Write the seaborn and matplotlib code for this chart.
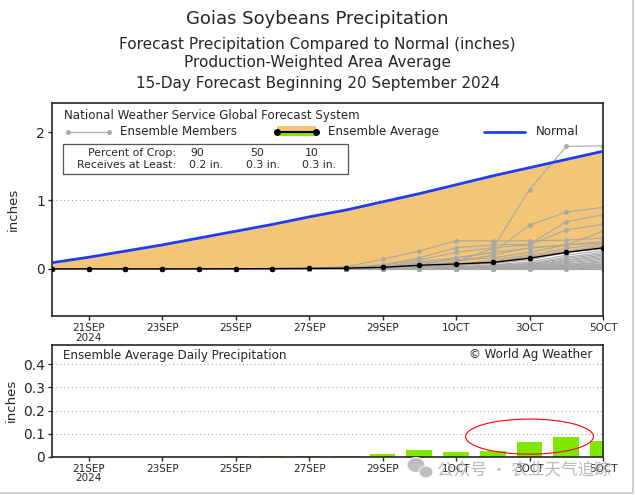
import numpy as np
import pandas as pd
import seaborn as sns
import matplotlib
matplotlib.use("Agg")
from matplotlib import pyplot as plt
from matplotlib.patches import Rectangle, Ellipse

# Forecast days: 0 = 20 SEP 2024 ... 15 = 5 OCT 2024
days = list(range(16))
tick_days = [1, 3, 5, 7, 9, 11, 13, 15]
tick_labels = ["21SEP\n2024", "23SEP", "25SEP", "27SEP", "29SEP", "1OCT", "3OCT", "5OCT"]

# Normal cumulative precipitation (inches)
normal_cum = [0.09, 0.17, 0.26, 0.35, 0.45, 0.55, 0.65, 0.76, 0.86, 0.98,
              1.10, 1.23, 1.36, 1.48, 1.60, 1.72]

# Ensemble average daily precipitation for days 1..15 (inches)
bar_days = days[1:]
daily_avg = [0.0, 0.0, 0.0, 0.0, 0.001, 0.002, 0.003, 0.004, 0.012,
             0.030, 0.019, 0.023, 0.062, 0.084, 0.067]
avg_cum = np.concatenate([[0.0], np.cumsum(daily_avg)])

# Ensemble members, cumulative for days 7..15 (days 0..6 are dry)
member_tails = [
    [0, 0, 0.02, 0.05, 0.10, 0.30, 1.16, 1.79, 1.80],
    [0, 0.01, 0.03, 0.10, 0.16, 0.24, 0.64, 0.83, 0.90],
    [0.01, 0.03, 0.14, 0.26, 0.41, 0.41, 0.41, 0.42, 0.45],
    [0, 0.02, 0.06, 0.16, 0.31, 0.35, 0.36, 0.69, 0.79],
    [0, 0.01, 0.05, 0.13, 0.24, 0.31, 0.35, 0.57, 0.65],
    [0, 0, 0.02, 0.05, 0.16, 0.24, 0.30, 0.35, 0.55],
    [0, 0, 0.01, 0.04, 0.10, 0.20, 0.31, 0.35, 0.38],
    [0, 0, 0.02, 0.08, 0.13, 0.16, 0.24, 0.35, 0.40],
    [0, 0, 0.01, 0.03, 0.06, 0.13, 0.20, 0.30, 0.36],
    [0, 0, 0, 0.02, 0.04, 0.10, 0.18, 0.26, 0.33],
    [0, 0, 0.01, 0.02, 0.05, 0.08, 0.13, 0.24, 0.30],
    [0, 0, 0, 0.01, 0.03, 0.06, 0.10, 0.20, 0.27],
    [0, 0, 0, 0.01, 0.02, 0.05, 0.08, 0.17, 0.24],
    [0, 0, 0, 0, 0.02, 0.04, 0.07, 0.15, 0.22],
    [0, 0, 0, 0, 0.01, 0.03, 0.06, 0.13, 0.20],
    [0, 0, 0, 0, 0.01, 0.02, 0.05, 0.12, 0.18],
    [0, 0, 0, 0, 0, 0.02, 0.04, 0.10, 0.16],
    [0, 0, 0, 0, 0, 0.01, 0.03, 0.09, 0.14],
    [0, 0, 0, 0, 0, 0.01, 0.03, 0.07, 0.12],
    [0, 0, 0, 0, 0, 0.01, 0.02, 0.06, 0.10],
    [0, 0, 0, 0, 0, 0, 0.02, 0.05, 0.09],
    [0, 0, 0, 0, 0, 0, 0.01, 0.04, 0.07],
    [0, 0, 0, 0, 0, 0, 0.01, 0.03, 0.06],
    [0, 0, 0, 0, 0, 0, 0.01, 0.02, 0.05],
    [0, 0, 0, 0, 0, 0, 0, 0.02, 0.04],
    [0, 0, 0, 0, 0, 0, 0, 0.01, 0.03],
    [0, 0, 0, 0, 0, 0, 0, 0.01, 0.02],
    [0, 0, 0, 0, 0, 0, 0, 0, 0.01],
    [0, 0, 0, 0, 0, 0, 0, 0, 0],
]

crop_pct = ["90", "50", "10"]
crop_amt = ["0.2 in.", "0.3 in.", "0.3 in."]

ORANGE = "#f2c577"
GREEN = "#7fe800"
BLUE = "#1f3cff"
GRAY = "#a8a8a8"

sns.set_style("ticks")
plt.rcParams["font.family"] = ["DejaVu Sans", "Noto Sans CJK SC"]
plt.rcParams["axes.linewidth"] = 1.2

fig = plt.figure(figsize=(6.35, 4.95), dpi=100)
ax1 = fig.add_axes([0.0819, 0.3616, 0.8677, 0.4309])
ax2 = fig.add_axes([0.0819, 0.0774, 0.8677, 0.2262])

# titles
fig.text(0.5, 0.961, "Goias Soybeans Precipitation", ha="center", va="center", fontsize=13)
fig.text(0.5, 0.911, "Forecast Precipitation Compared to Normal (inches)", ha="center", va="center", fontsize=11)
fig.text(0.5, 0.873, "Production-Weighted Area Average", ha="center", va="center", fontsize=11)
fig.text(0.5, 0.832, "15-Day Forecast Beginning 20 September 2024", ha="center", va="center", fontsize=11)

# --- top panel: cumulative ---
ax1.fill_between(days, avg_cum, normal_cum, color=ORANGE, lw=0, zorder=1)

rows = []
for i, tail in enumerate(member_tails):
    vals = [0.0] * 7 + tail
    for d, v in zip(days, vals):
        rows.append((d, i, v))
members_df = pd.DataFrame(rows, columns=["day", "member", "precip"])
sns.lineplot(data=members_df, x="day", y="precip", units="member", estimator=None,
             color=GRAY, lw=0.8, marker="o", markersize=3.5, markeredgewidth=0,
             ax=ax1, zorder=2)

sns.lineplot(x=days, y=avg_cum, color="black", lw=1.0, marker="o", markersize=4,
             markeredgewidth=0, ax=ax1, zorder=3)
sns.lineplot(x=days, y=normal_cum, color=BLUE, lw=2.0, ax=ax1, zorder=4)

ax1.set_xlim(0, 15)
ax1.set_ylim(-0.69, 2.43)
ax1.set_yticks([0, 1, 2])
ax1.set_yticklabels(["0", "1", "2"], fontsize=10)
ax1.set_xticks(tick_days)
ax1.set_xticklabels(tick_labels, fontsize=7.5, linespacing=0.95)
ax1.set_xlabel("")
ax1.set_ylabel("inches", fontsize=9.5, labelpad=12)
ax1.tick_params(length=3, width=1, pad=2)
for y in [0, 1]:
    ax1.axhline(y, color="#999999", lw=0.7, ls=(0, (1, 3)), zorder=0.5)

# legend drawn in axes coordinates
tr = ax1.transAxes
ax1.text(0.022, 0.939, "National Weather Service Global Forecast System", transform=tr,
         fontsize=8.6, va="center", ha="left")
ly = 0.864
ax1.plot([0.029, 0.103], [ly, ly], color=GRAY, lw=0.8, marker="o", markersize=3.5,
         markeredgewidth=0, transform=tr, clip_on=False, zorder=6)
ax1.text(0.123, ly, "Ensemble Members", transform=tr, fontsize=8.6, va="center")
ax1.add_patch(Rectangle((0.408, ly), 0.072, 0.026, transform=tr, color=ORANGE, lw=0, zorder=6))
ax1.add_patch(Rectangle((0.408, ly - 0.022), 0.072, 0.022, transform=tr, color=GREEN, lw=0, zorder=6))
ax1.plot([0.408, 0.480], [ly, ly], color="black", lw=1.5, marker="o", markersize=4,
         transform=tr, zorder=7)
ax1.text(0.50, ly, "Ensemble Average", transform=tr, fontsize=8.6, va="center")
ax1.plot([0.784, 0.858], [ly, ly], color=BLUE, lw=2.0, transform=tr, zorder=6)
ax1.text(0.878, ly, "Normal", transform=tr, fontsize=8.6, va="center")

ax1.add_patch(Rectangle((0.0205, 0.667), 0.5165, 0.140, transform=tr, fill=False,
                        edgecolor="#555555", lw=0.9, zorder=6))
ax1.text(0.225, 0.762, "Percent of Crop:", transform=tr, fontsize=7.8, ha="right", va="center")
ax1.text(0.225, 0.710, "Receives at Least:", transform=tr, fontsize=7.8, ha="right", va="center")
for xp, xa, p, a in zip([0.263, 0.372, 0.472], [0.279, 0.383, 0.485], crop_pct, crop_amt):
    ax1.text(xp, 0.762, p, transform=tr, fontsize=7.8, ha="center", va="center")
    ax1.text(xa, 0.710, a, transform=tr, fontsize=7.8, ha="center", va="center")

# --- bottom panel: daily ensemble average ---
sns.barplot(x=bar_days, y=daily_avg, native_scale=True, width=0.7, color=GREEN,
            saturation=1, edgecolor="none", ax=ax2, zorder=2)
ax2.set_xlim(0, 15)
ax2.set_ylim(0, 0.485)
ax2.set_yticks([0, 0.1, 0.2, 0.3, 0.4])
ax2.set_yticklabels(["0", "0.1", "0.2", "0.3", "0.4"], fontsize=10)
ax2.set_xticks(tick_days)
ax2.set_xticklabels(tick_labels, fontsize=7.5, linespacing=0.95)
ax2.set_xlabel("")
ax2.set_ylabel("inches", fontsize=9.5, labelpad=4)
ax2.tick_params(length=3, width=1, pad=2)
for y in [0.1, 0.2, 0.3, 0.4]:
    ax2.axhline(y, color="#999999", lw=0.7, ls=(0, (1, 3)), zorder=0.5)
ax2.text(0.02, 0.9, "Ensemble Average Daily Precipitation", transform=ax2.transAxes,
         fontsize=8.6, va="center")
ax2.text(0.98, 0.91, "\u00a9 World Ag Weather", transform=ax2.transAxes,
         fontsize=8.6, va="center", ha="right")

# red highlight ellipse
ax2.add_patch(Ellipse((13.0, 0.087), 3.48, 0.152, fill=False, edgecolor="red", lw=0.8,
                      zorder=5, clip_on=False))

# watermark (icon + text) overlaid on the image
ftr = fig.transFigure
fig.patches.append(Ellipse((416 / 635, 1 - 465 / 495), 18 / 635, 15 / 495, transform=ftr,
                           facecolor="#b8b8b8", edgecolor="white", lw=0.8, alpha=0.9, zorder=10))
fig.patches.append(Ellipse((426 / 635, 1 - 472 / 495), 14 / 635, 12 / 495, transform=ftr,
                           facecolor="#b8b8b8", edgecolor="white", lw=0.8, alpha=0.9, zorder=10))
fig.text(0.688, 0.051, "\u516c\u4f17\u53f7 \u00b7 \u519c\u4e1a\u5929\u6c14\u8ffd\u8e2a",
         fontsize=12, color="#a8a8a8", alpha=0.8, va="center", ha="left",
         family=["Noto Sans CJK SC", "DejaVu Sans"], zorder=10)

# thin frame on right and bottom edges of the picture
fig.add_artist(plt.Line2D([0.9969, 0.9969, 0], [1, 0.004, 0.004], transform=ftr,
                          color="#c8c8c8", lw=1.2))

fig.savefig("out.png", dpi=100)
